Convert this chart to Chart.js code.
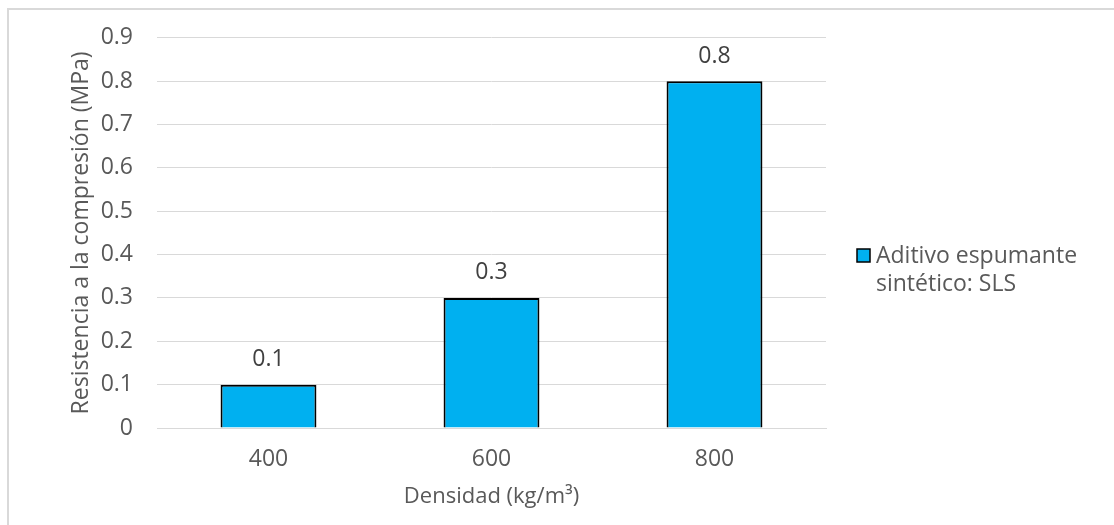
<!DOCTYPE html>
<html>
<head>
<meta charset="utf-8">
<script src="https://cdn.jsdelivr.net/npm/chart.js@4.4.0/dist/chart.umd.min.js"></script>
<style>
  html, body { margin: 0; padding: 0; background: #fff; }
  #wrap { position: relative; width: 1114px; height: 525px; overflow: hidden; }
  #frame { position: absolute; left: 7px; top: 8px; width: 1120px; height: 530px;
           border-top: 2px solid #d9d9d9; border-left: 2px solid #d9d9d9; box-sizing: border-box; }
  canvas { position: absolute; left: 0; top: 0; }
</style>
</head>
<body>
<div id="wrap">
  <div id="frame"></div>
  <canvas id="c" width="1114" height="525"></canvas>
</div>
<script>
const categories = ['400', '600', '800'];
const seriesLabel = 'Aditivo espumante sintético: SLS';
const seriesLegendLines = ['Aditivo espumante', 'sintético: SLS'];
const seriesValues = [0.1, 0.3, 0.8];
const yTitle = 'Resistencia a la compresión (MPa)';
const xTitle = 'Densidad (kg/m³)';

const FONT = "'Open Sans', 'DejaVu Sans', sans-serif";
const TXT = '#595959';

const dataLabels = {
  id: 'dataLabels',
  afterDatasetsDraw(chart) {
    const ctx = chart.ctx;
    ctx.save();
    ctx.font = '23px ' + FONT;
    ctx.fillStyle = '#404040';
    ctx.textAlign = 'center';
    ctx.textBaseline = 'middle';
    chart.getDatasetMeta(0).data.forEach((bar, i) => {
      ctx.fillText(String(chart.data.datasets[0].data[i]), bar.x, bar.y - 25);
    });
    ctx.restore();
  }
};

const sideLegend = {
  id: 'sideLegend',
  afterDraw(chart) {
    const ctx = chart.ctx;
    const ds = chart.data.datasets[0];
    const x0 = 857, y0 = 256;
    ctx.save();
    ctx.fillStyle = ds.backgroundColor;
    ctx.fillRect(x0, y0 - 7, 13, 13);
    ctx.strokeStyle = '#000';
    ctx.lineWidth = 1.5;
    ctx.strokeRect(x0, y0 - 7, 13, 13);
    ctx.font = '23px ' + FONT;
    ctx.fillStyle = TXT;
    ctx.textAlign = 'left';
    ctx.textBaseline = 'middle';
    seriesLegendLines.forEach((t, i) => ctx.fillText(t, x0 + 19, y0 + i * 28));
    ctx.restore();
  }
};

new Chart(document.getElementById('c'), {
  type: 'bar',
  data: {
    labels: categories,
    datasets: [{
      label: seriesLabel,
      data: seriesValues,
      backgroundColor: '#00B0F0',
      borderColor: '#000000',
      borderWidth: 2,
      borderSkipped: 'bottom',
      categoryPercentage: 1.0,
      barPercentage: 0.43
    }]
  },
  options: {
    responsive: false,
    animation: false,
    devicePixelRatio: 1,
    layout: { padding: { left: 0, right: 288, top: 36, bottom: 0 } },
    plugins: { legend: { display: false }, tooltip: { enabled: false } },
    scales: {
      x: {
        grid: { display: false, drawTicks: false },
        border: { display: true, color: '#d9d9d9', width: 1 },
        ticks: { color: TXT, font: { family: FONT, size: 23 }, padding: 18 },
        title: { display: true, text: xTitle, color: TXT, font: { family: FONT, size: 22 }, padding: { top: 0, bottom: 15 } },
        afterFit(s) { s.height = 97; }
      },
      y: {
        min: 0, max: 0.9,
        ticks: { stepSize: 0.1, color: TXT, font: { family: FONT, size: 23 }, padding: 24,
                 callback: (v) => (Math.round(v * 10) / 10).toString() },
        grid: { color: '#d9d9d9', lineWidth: 1, drawTicks: false },
        border: { display: false },
        title: { display: true, text: yTitle, color: TXT, font: { family: FONT, size: 23 }, padding: { top: 68, bottom: 0 } },
        afterFit(s) { s.width = 157; }
      }
    }
  },
  plugins: [dataLabels, sideLegend]
});
</script>
</body>
</html>
